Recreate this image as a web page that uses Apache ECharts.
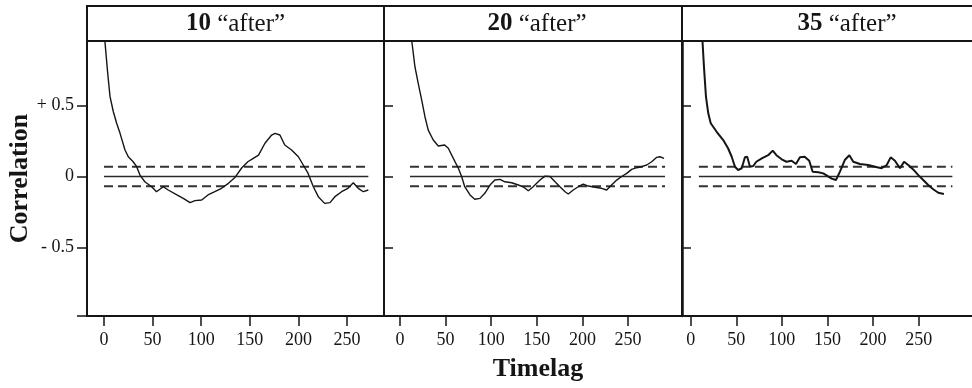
<!DOCTYPE html>
<html>
<head>
<meta charset="utf-8">
<script src="https://cdn.jsdelivr.net/npm/echarts@6/dist/echarts.min.js"></script>
<style>html,body{margin:0;padding:0;background:#fff;}#c{width:972px;height:388px;}</style>
</head>
<body>
<div id="c"></div>
<script>
// ---- data ----
const panelTitles = ['10', '20', '35'];
const titleSuffix = ' \u201cafter\u201d';
const xTickValues = [0, 50, 100, 150, 200, 250];
const yTickValues = [-0.5, 0, 0.5];
const yTickLabels = ['- 0.5', '0', '+ 0.5'];
const bandHalfWidth = 0.068;
const refRange1 = [0, 272];
const refRange2 = [11, 290.6];
const refRange3 = [9, 287];

const lag10X = [0,1,3.8,6.2,9.6,13,16.5,21.6,25,30,33.6,37,42,49,54,61,66,75,81.6,88.5,93.6,100.5,107,114,121,128,135,141.6,148,153.6,159,165.6,172.5,176,181,186,193,200,205,210,215.4,220.5,227,232.5,237.6,244.5,251,256.5,261.6,266.8,272];
const lag10Y = [1.0,0.946,0.727,0.562,0.456,0.375,0.304,0.187,0.139,0.104,0.069,0.01,-0.037,-0.072,-0.107,-0.072,-0.095,-0.13,-0.154,-0.184,-0.17,-0.165,-0.13,-0.107,-0.083,-0.048,-0.005,0.06,0.104,0.128,0.15,0.234,0.292,0.304,0.292,0.222,0.187,0.139,0.081,0.022,-0.072,-0.142,-0.189,-0.184,-0.142,-0.107,-0.083,-0.044,-0.083,-0.107,-0.095];

const lag20X = [12,13.5,16.4,20,23.8,27.4,31,36.5,42,49,53,58.5,64,67.6,71,76.8,82,87.7,93,98.7,104,109.6,115,122.5,129.7,135,140.7,146,153.5,159,164.5,170,175.4,181,184.5,190,195.5,201,206.5,213.8,221,226.6,232,237.6,243,248.6,254,259.5,265,270.5,276,281.5,285,289.5];
const lag20Y = [1.0,0.926,0.773,0.656,0.539,0.421,0.327,0.257,0.215,0.222,0.199,0.128,0.058,0,-0.072,-0.13,-0.16,-0.154,-0.118,-0.06,-0.025,-0.02,-0.037,-0.044,-0.06,-0.072,-0.1,-0.072,-0.025,0.003,0,-0.037,-0.072,-0.107,-0.123,-0.095,-0.072,-0.053,-0.067,-0.076,-0.083,-0.095,-0.06,-0.025,0,0.022,0.05,0.062,0.069,0.081,0.104,0.135,0.139,0.128];

const lag35X = [12.6,13,14.6,16.8,19.3,22,28.5,35.7,41,45,48.6,52,56,59.5,62,65,68.6,72,78,85,90,94,99.8,105,110.7,115.5,119.8,125,130,133.8,140,145.4,149,154.6,159.3,163.7,169,174,178.3,185.6,194.7,202,209.4,215,219.3,224,229.5,234,238.6,244,249.6,255,260.5,266,271.5,277.7];
const lag35Y = [1.0,0.95,0.77,0.56,0.445,0.375,0.315,0.257,0.199,0.139,0.069,0.046,0.058,0.135,0.139,0.069,0.074,0.104,0.128,0.15,0.182,0.15,0.121,0.104,0.111,0.088,0.135,0.139,0.111,0.034,0.03,0.022,0.008,-0.015,-0.025,0.034,0.116,0.15,0.104,0.088,0.081,0.069,0.058,0.081,0.135,0.111,0.058,0.104,0.081,0.05,0.01,-0.025,-0.06,-0.09,-0.114,-0.123];

// ---- layout ----
const SERIF = '"Liberation Serif", "DejaVu Serif", serif';
const INK = '#151515';
const grids = [
  {left: 87, top: 41, width: 297, height: 275},
  {left: 384, top: 41, width: 298, height: 275},
  {left: 682, top: 41, width: 290, height: 275}
];
const xRanges = [[-17.5, 288.1], [-17.5, 309.2], [-9.5, 308.5]];
const yMin = -0.982, yMax = 0.954;
const curves = [[lag10X, lag10Y], [lag20X, lag20Y], [lag35X, lag35Y]];
const refs = [refRange1, refRange2, refRange3];
const titleCenters = [235.5, 537, 847];
const stripWidths = [297, 298, 329];

const zip = (xs, ys) => xs.map((x, i) => [x, ys[i]]);

const option = {
  animation: false,
  backgroundColor: '#fff',
  grid: grids.map((g, i) => Object.assign({show: i !== 2, borderColor: INK, borderWidth: 2, backgroundColor: 'transparent', containLabel: false}, g)),
  xAxis: grids.map((g, i) => ({
    type: 'value', gridIndex: i, min: xRanges[i][0], max: xRanges[i][1], position: 'bottom',
    axisLine: {show: i === 2, onZero: false, lineStyle: {color: INK, width: 2}},
    splitLine: {show: false},
    axisTick: {show: true, customValues: xTickValues, length: 10, lineStyle: {color: INK, width: 1.5}},
    axisLabel: {show: true, customValues: xTickValues, margin: 15, fontFamily: SERIF, fontSize: 18, color: INK},
    name: i === 1 ? 'Timelag' : '',
    nameLocation: 'middle', nameGap: 40,
    nameTextStyle: {fontFamily: SERIF, fontSize: 26, fontWeight: 'bold', color: INK, padding: [0, 0, 0, 10]}
  })),
  yAxis: grids.map((g, i) => ({
    type: 'value', gridIndex: i, min: yMin, max: yMax, position: 'left',
    axisLine: {show: i === 2, onZero: false, lineStyle: {color: INK, width: 2.5}},
    splitLine: {show: false},
    axisTick: {show: true, inside: i !== 0, customValues: i === 0 ? [yMin].concat(yTickValues) : yTickValues, length: i === 0 ? 10 : 9, lineStyle: {color: INK, width: 1.5}},
    axisLabel: {show: i === 0, customValues: yTickValues, margin: 13, fontFamily: SERIF, fontSize: 18, color: INK,
      formatter: v => { const k = yTickValues.findIndex(t => Math.abs(t - v) < 1e-6); return k >= 0 ? yTickLabels[k] : ''; }},
    name: i === 0 ? 'Correlation' : '',
    nameLocation: 'middle', nameGap: 47, nameRotate: 90,
    nameTextStyle: {fontFamily: SERIF, fontSize: 26, fontWeight: 'bold', color: INK}
  })),
  series: [],
  graphic: []
};

curves.forEach((c, i) => {
  const r = refs[i];
  option.series.push({
    type: 'line', xAxisIndex: i, yAxisIndex: i, data: [[r[0], 0], [r[1], 0]],
    showSymbol: false, silent: true, lineStyle: {color: '#2a2a2a', width: 1.6}
  });
  [bandHalfWidth, -bandHalfWidth].forEach(b => option.series.push({
    type: 'line', xAxisIndex: i, yAxisIndex: i, data: [[r[0], b], [r[1], b]],
    showSymbol: false, silent: true, lineStyle: {color: '#333', width: 2, type: [9, 5]}
  }));
  option.series.push({
    type: 'line', xAxisIndex: i, yAxisIndex: i, data: zip(c[0], c[1]),
    showSymbol: false, silent: true, clip: true,
    lineStyle: {color: INK, width: i === 2 ? 2 : 1.4}
  });
  const g = grids[i];
  option.graphic.push({
    type: 'rect', shape: {x: g.left, y: 6, width: stripWidths[i], height: 35},
    style: {fill: '#fff', stroke: INK, lineWidth: 2}, z: 1
  });
  option.graphic.push({
    type: 'text', x: titleCenters[i], y: 24, z: 2,
    style: {
      text: '{b|' + panelTitles[i] + '}{n|' + titleSuffix + '}',
      align: 'center', verticalAlign: 'middle',
      rich: {
        b: {fontFamily: SERIF, fontSize: 25, fontWeight: 'bold', fill: INK},
        n: {fontFamily: SERIF, fontSize: 25, fill: INK}
      }
    }
  });
});

const chart = echarts.init(document.getElementById('c'), null, {renderer: 'canvas'});
chart.setOption(option);
</script>
</body>
</html>
